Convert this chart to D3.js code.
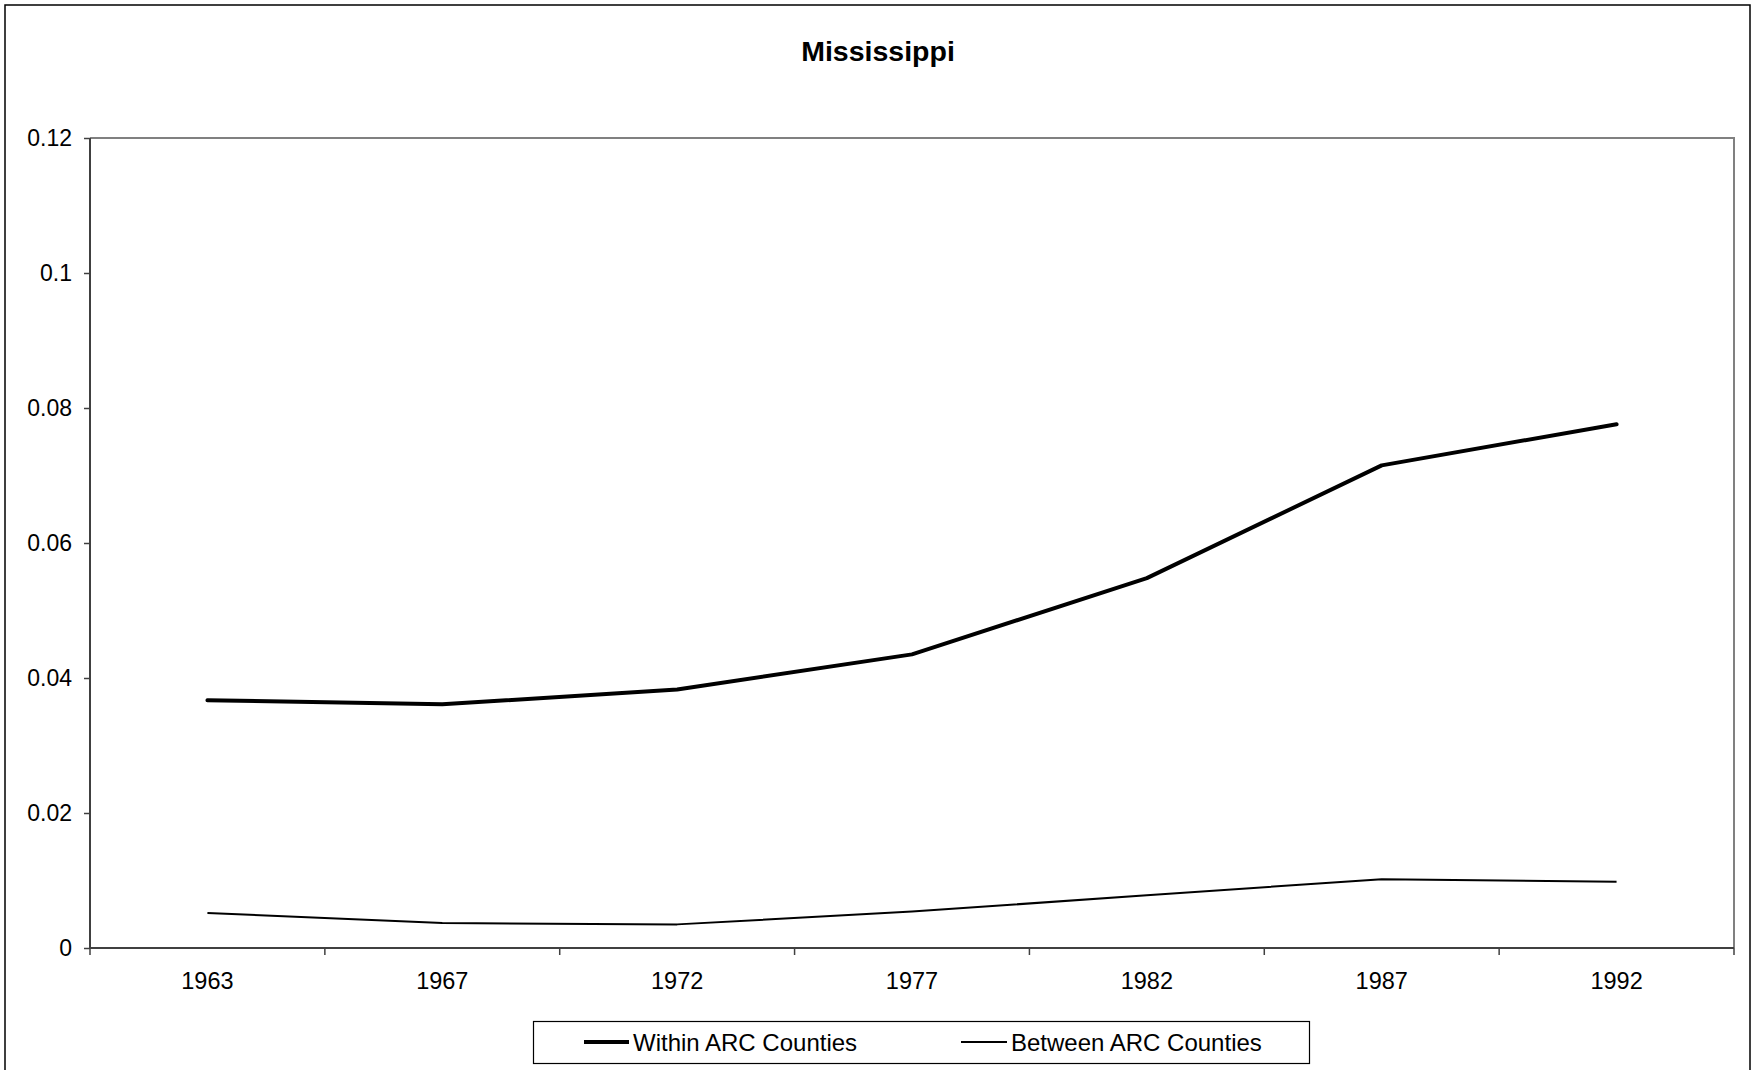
<!DOCTYPE html>
<html>
<head>
<meta charset="utf-8">
<script src="https://cdn.jsdelivr.net/npm/d3@7"></script>
<style>
  html, body { margin: 0; padding: 0; background: #fff; }
  svg { display: block; font-family: "Liberation Sans", Arial, sans-serif; }
</style>
</head>
<body>
<svg id="chart" width="1758" height="1070"></svg>
<script>
// Census years along the x axis
const years = ["1963", "1967", "1972", "1977", "1982", "1987", "1992"];

// Inequality components by year
const withinARC  = [0.0367, 0.0361, 0.0383, 0.0435, 0.0548, 0.0715, 0.0776];
const betweenARC = [0.0052, 0.0037, 0.0035, 0.0054, 0.0078, 0.0102, 0.0098];

const yTicks = [0, 0.02, 0.04, 0.06, 0.08, 0.1, 0.12];

const seriesNames = ["Within ARC Counties", "Between ARC Counties"];

const plot = { left: 90, right: 1734, top: 138, bottom: 948 };

const svg = d3.select("#chart");

// outer chart frame
svg.append("rect")
  .attr("x", 5).attr("y", 5)
  .attr("width", 1745).attr("height", 1120)
  .attr("fill", "#fff")
  .attr("stroke", "#000").attr("stroke-width", 1.5);

svg.append("text")
  .attr("x", (plot.left + plot.right) / 2 - 34)
  .attr("y", 61)
  .attr("text-anchor", "middle")
  .attr("font-size", 28.5)
  .attr("font-weight", "bold")
  .text("Mississippi");

const x = d3.scaleBand().domain(years).range([plot.left, plot.right]).padding(0);
const y = d3.scaleLinear().domain([0, 0.12]).range([plot.bottom, plot.top]);

// plot frame: top and right edges
svg.append("path")
  .attr("d", `M${plot.left},${plot.top}H${plot.right}V${plot.bottom}`)
  .attr("fill", "none")
  .attr("stroke", "#808080").attr("stroke-width", 2);

// y axis
const yAxis = svg.append("g")
  .attr("transform", `translate(${plot.left},0)`)
  .call(d3.axisLeft(y)
    .tickValues(yTicks)
    .tickSize(6)
    .tickPadding(12)
    .tickFormat(d => d === 0 ? "0" : String(+d.toFixed(2))));
yAxis.select(".domain").attr("stroke", "#404040").attr("stroke-width", 2)
  .attr("d", `M0,${plot.top}V${plot.bottom}`);
yAxis.selectAll(".tick line").attr("stroke", "#404040").attr("stroke-width", 1.5);
yAxis.selectAll(".tick text")
  .attr("font-size", 23).attr("fill", "#000")
  .attr("font-family", "'Liberation Sans', Arial, sans-serif");

// x axis: labels at band centres, ticks at band edges
const xAxis = svg.append("g")
  .attr("transform", `translate(0,${plot.bottom})`)
  .call(d3.axisBottom(x).tickSize(0).tickPadding(24));
xAxis.select(".domain").attr("stroke", "#404040").attr("stroke-width", 2)
  .attr("d", `M${plot.left},0H${plot.right}`);
xAxis.selectAll(".tick text")
  .attr("font-size", 23.5).attr("fill", "#000")
  .attr("font-family", "'Liberation Sans', Arial, sans-serif");

const edges = years.map(d => x(d)).concat([x.range()[1]]);
xAxis.selectAll(".edge")
  .data(edges)
  .join("line")
  .attr("class", "edge")
  .attr("x1", d => d).attr("x2", d => d)
  .attr("y1", 0).attr("y2", 7)
  .attr("stroke", "#404040").attr("stroke-width", 1.5);

// series lines
const line = d3.line()
  .x((d, i) => x(years[i]) + x.bandwidth() / 2)
  .y(d => y(d));

svg.append("path")
  .datum(betweenARC)
  .attr("d", line)
  .attr("fill", "none")
  .attr("stroke", "#000").attr("stroke-width", 2)
  .attr("stroke-linejoin", "round");

svg.append("path")
  .datum(withinARC)
  .attr("d", line)
  .attr("fill", "none")
  .attr("stroke", "#000").attr("stroke-width", 4)
  .attr("stroke-linejoin", "round")
  .attr("stroke-linecap", "round");

// legend
const legend = svg.append("g");
legend.append("rect")
  .attr("x", 533.5).attr("y", 1021.5)
  .attr("width", 776).attr("height", 42)
  .attr("fill", "#fff")
  .attr("stroke", "#000").attr("stroke-width", 1.2);

const legendItems = [
  { name: seriesNames[0], x0: 584, x1: 629, w: 4 },
  { name: seriesNames[1], x0: 961, x1: 1007, w: 2 }
];
legendItems.forEach(it => {
  legend.append("line")
    .attr("x1", it.x0).attr("x2", it.x1)
    .attr("y1", 1042).attr("y2", 1042)
    .attr("stroke", "#000").attr("stroke-width", it.w);
  legend.append("text")
    .attr("x", it.x1 + 4).attr("y", 1050.5)
    .attr("font-size", 24)
    .text(it.name);
});
</script>
</body>
</html>
